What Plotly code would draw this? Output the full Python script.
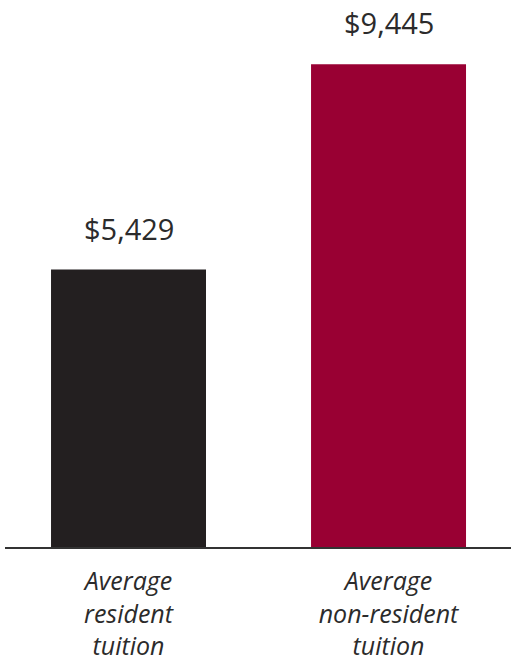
import plotly.graph_objects as go

categories = ["Average<br>resident<br>tuition", "Average<br>non-resident<br>tuition"]
values = [5429, 9445]
bar_colors = ["#231f20", "#990033"]
value_labels = [f"${v:,}" for v in values]

FONT = "Open Sans"
TEXT = "#2b2b2b"

fig = go.Figure(
    go.Bar(
        x=[0, 1],
        y=values,
        width=0.596,
        marker=dict(color=bar_colors, line=dict(width=0)),
        hoverinfo="skip",
    )
)

for i, (v, lab) in enumerate(zip(values, value_labels)):
    fig.add_annotation(
        x=i, y=v, text=lab, showarrow=False,
        yanchor="bottom", yshift=20,
        font=dict(family=FONT, size=29, color=TEXT),
    )

fig.update_layout(
    width=511, height=662,
    margin=dict(l=5, r=0, t=0, b=113),
    paper_bgcolor="white", plot_bgcolor="white",
    showlegend=False,
    xaxis=dict(
        range=[-0.475, 1.471],
        tickvals=[0, 1],
        ticktext=[f"<i>{c}</i>" for c in categories],
        tickfont=dict(family=FONT, size=25, color=TEXT),
        showline=True, linewidth=2, linecolor="#333333",
        showgrid=False, zeroline=False, ticks="",
        ticklabelstandoff=11,
    ),
    yaxis=dict(
        range=[0, 10702],
        visible=False, showgrid=False, zeroline=False,
    ),
)

fig.write_html("out.html")
